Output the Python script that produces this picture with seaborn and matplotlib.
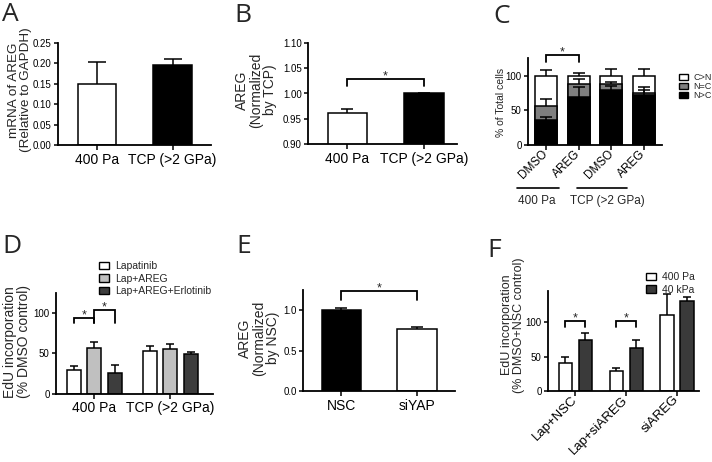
import numpy as np
import pandas as pd
import matplotlib
matplotlib.use("Agg")
import matplotlib.pyplot as plt
import seaborn as sns
from matplotlib.patches import Patch

# ---- values ----
# A: AREG mRNA
a_cond = ["400 Pa", "TCP (>2 GPa)"]
a_mean = [0.150, 0.197]
a_sem = [0.054, 0.014]

# B: AREG normalized by TCP
b_cond = ["400 Pa", "TCP (>2 GPa)"]
b_mean = [0.962, 1.000]
b_sem = [0.008, 0.0]

# C: YAP localisation (% of total cells), stacked
c_treat = ["DMSO", "AREG", "DMSO", "AREG"]
c_sub = ["400 Pa", "400 Pa", "TCP (>2 GPa)", "TCP (>2 GPa)"]
c_loc = ["C>N", "N=C", "N>C"]
c_n_gt_c = [36, 70, 80, 73]
c_n_eq_c = [20, 19, 8, 3]
c_n_gt_c_sem = [5, 14, 5, 6]
c_n_eq_c_sem = [11, 7, 3, 8]
c_c_gt_n_sem = [8, 4, 10, 10]

# D: EdU incorporation
d_cond = ["400 Pa", "TCP (>2 GPa)"]
d_treat = ["Lapatinib", "Lap+AREG", "Lap+AREG+Erlotinib"]
d_lap = [29, 53]
d_lap_areg = [57, 55]
d_lap_areg_erl = [26, 49]
d_lap_sem = [5.5, 6.5]
d_lap_areg_sem = [7.5, 6]
d_lap_areg_erl_sem = [9, 3]

# E: AREG normalized by NSC
e_cond = ["NSC", "siYAP"]
e_mean = [1.008, 0.762]
e_sem = [0.017, 0.032]

# F: EdU incorporation, siRNA
f_cond = ["Lap+NSC", "Lap+siAREG", "siAREG"]
f_sub = ["400 Pa", "40 kPa"]
f_400pa = [40, 28.5, 110]
f_40kpa = [73.5, 62, 130]
f_400pa_sem = [10, 4.5, 31]
f_40kpa_sem = [10.5, 11.5, 6]

sns.set_style("ticks")
plt.rcParams["font.family"] = ["Liberation Sans", "DejaVu Sans"]

W, H = 712, 462
fig = plt.figure(figsize=(W / 100, H / 100), dpi=100)
EDGE = dict(edgecolor="black", linewidth=1.1, saturation=1, errorbar=None)


def add_ax(l, t, r, b):
    return fig.add_axes([l / W, 1 - b / H, (r - l) / W, (b - t) / H])


def style(ax, xlim, ylim, yticks, fmt):
    ax.set_xlim(xlim)
    ax.set_ylim(ylim)
    ax.set_yticks(yticks)
    ax.set_yticklabels([fmt.format(v) for v in yticks])
    sns.despine(ax=ax)
    for s in ("left", "bottom"):
        ax.spines[s].set_linewidth(1.3)
        ax.spines[s].set_color("black")
    ax.tick_params(axis="y", length=3, width=1.1, labelsize=7, pad=1.5, colors="black")
    ax.tick_params(axis="x", length=3.5, width=1.1, labelsize=10, pad=2, colors="black")
    ax.set_xlabel("")
    ax.set_ylabel("")


def ylab(ax, text, x_px, y_px, size=10):
    pos = ax.get_position()
    l, r = pos.x0 * W, pos.x1 * W
    t, b = (1 - pos.y1) * H, (1 - pos.y0) * H
    ax.set_ylabel(text, fontsize=size, va="center", linespacing=1.0)
    ax.yaxis.set_label_coords((x_px - l) / (r - l), (b - y_px) / (b - t))


def centers(bars):
    return [p.get_x() + p.get_width() / 2 for p in bars]


def up_err(ax, xs, tops, errs, cap):
    _, caps, _ = ax.errorbar(xs, tops, yerr=[np.zeros(len(errs)), errs], fmt="none",
                             ecolor="black", elinewidth=1.1, capsize=cap, capthick=1.1,
                             clip_on=False)
    caps[0].set_visible(False)


def bracket(ax, x0, x1, y, y0, y1):
    ax.plot([x0, x0, x1, x1], [y0, y, y, y1], color="black", lw=1.3, clip_on=False,
            solid_joinstyle="miter")
    ax.annotate("*", xy=((x0 + x1) / 2, y), xytext=(0, -0.5), textcoords="offset points",
                ha="center", va="baseline", fontsize=9, annotation_clip=False)


def rot_labels(ax, labels, size):
    ax.set_xticks(range(len(labels)))
    ax.set_xticklabels(labels, rotation=45, ha="right", va="center",
                       rotation_mode="anchor", fontsize=size)
    ax.tick_params(axis="x", pad=1.5)


def letter(s, x_px, y_px):
    fig.text(x_px / W, 1 - y_px / H, s, fontsize=19, family="Open Sans",
             ha="left", va="baseline")


def small_legend(ax, handles, labels, x_px, y_px, size, spacing):
    ax.legend(handles, labels, loc="upper left", bbox_to_anchor=(x_px / W, 1 - y_px / H),
              bbox_transform=fig.transFigure, frameon=False, fontsize=size,
              handlelength=0.96, handleheight=0.7, handletextpad=0.6,
              labelspacing=spacing, borderaxespad=0, borderpad=0)


# ---------------- A ----------------
ax = add_ax(58, 43, 211, 145)
df_a = pd.DataFrame({"cond": a_cond, "val": a_mean})
sns.barplot(data=df_a, x="cond", y="val", hue="cond", palette=["white", "black"],
            legend=False, width=0.51, ax=ax, **EDGE)
up_err(ax, centers(ax.patches), a_mean, a_sem, 6.8)
style(ax, (-0.517, 1.51), (0, 0.25), np.arange(0, 0.26, 0.05), "{:.2f}")
ylab(ax, "mRNA of AREG\n(Relative to GAPDH)", 20, 90, size=9.7)
letter("A", 2, 21)

# ---------------- B ----------------
ax = add_ax(308, 43, 457, 144)
df_b = pd.DataFrame({"cond": b_cond, "val": b_mean})
sns.barplot(data=df_b, x="cond", y="val", hue="cond", palette=["white", "black"],
            legend=False, width=0.51, ax=ax, **EDGE)
up_err(ax, centers(ax.patches), b_mean, b_sem, 4.3)
style(ax, (-0.512, 1.43), (0.90, 1.10), np.arange(0.90, 1.101, 0.05), "{:.2f}")
bracket(ax, 0, 1, 1.0297, 1.0145, 1.0145)
ylab(ax, "AREG\n(Normalized\nby TCP)", 256, 90)
letter("B", 234, 22)

# ---------------- C ----------------
ax = add_ax(528, 58, 662, 145)
keys = [f"{s} {t}" for s, t in zip(c_sub, c_treat)]
grey_top = [a + b for a, b in zip(c_n_gt_c, c_n_eq_c)]
df_c = pd.DataFrame({"key": keys, "C>N": [100] * 4, "N=C": grey_top, "N>C": c_n_gt_c})
c_pal = {"C>N": "white", "N=C": "#7f7f7f", "N>C": "black"}
for loc in c_loc:
    sns.barplot(data=df_c, x="key", y=loc, color=c_pal[loc], width=0.67, ax=ax, **EDGE)
xs = centers(ax.patches[:4])
up_err(ax, xs, [100] * 4, c_c_gt_n_sem, 4.3)
up_err(ax, xs, grey_top, c_n_eq_c_sem, 4.3)
up_err(ax, xs, c_n_gt_c, c_n_gt_c_sem, 4.3)
style(ax, (-0.55, 3.55), (0, 126), [0, 50, 100], "{:d}")
rot_labels(ax, c_treat, 8.5)
bracket(ax, 0, 1, 131, 120, 120)
tr = ax.get_xaxis_transform()
for (x0, x1), lab, xm in zip([(-0.89, 0.40), (0.95, 2.48)], ["400 Pa", "TCP (>2 GPa)"],
                             [-0.28, 1.87]):
    ax.plot([x0, x1], [-0.49, -0.49], transform=tr, color="black", lw=1.2, clip_on=False)
    ax.text(xm, -0.645, lab, transform=tr, ha="center", va="center", fontsize=8.5)
ylab(ax, "% of Total cells", 501, 102, size=7.5)
small_legend(ax, [Patch(facecolor=c_pal[k], edgecolor="black", linewidth=1) for k in c_loc],
             c_loc, 679, 73, 6.5, 0.0)
letter("C", 493, 23)

# ---------------- D ----------------
ax = add_ax(56, 293, 213, 393.5)
d_vals = [d_lap, d_lap_areg, d_lap_areg_erl]
d_sems = [d_lap_sem, d_lap_areg_sem, d_lap_areg_erl_sem]
df_d = pd.DataFrame({"cond": d_cond * 3,
                     "treat": [t for t in d_treat for _ in d_cond],
                     "val": [v for vals in d_vals for v in vals]})
d_pal = dict(zip(d_treat, ["white", "#c0c0c0", "#3d3d3d"]))
sns.barplot(data=df_d, x="cond", y="val", hue="treat", hue_order=d_treat, palette=d_pal,
            width=0.8, gap=0.31, legend=False, ax=ax, **EDGE)
d_bars = list(ax.containers)
for bars, vals, sems in zip(d_bars, d_vals, d_sems):
    up_err(ax, centers(bars), vals, sems, 2.9)
style(ax, (-0.505, 1.56), (0, 125), [0, 50, 100], "{:d}")
xw, xg, xd = (centers(b)[0] for b in d_bars)
bracket(ax, xw, xg, 94, 87.5, 87.5)
bracket(ax, xg, xd, 104, 87.5, 87.5)
ylab(ax, "EdU incorporation\n(% DMSO control)", 17, 342)
small_legend(ax, [Patch(facecolor=d_pal[k], edgecolor="black", linewidth=1) for k in d_treat],
             d_treat, 99, 261, 7.5, 0.25)
letter("D", 2, 253)

# ---------------- E ----------------
ax = add_ax(303, 290, 455, 391)
df_e = pd.DataFrame({"cond": e_cond, "val": e_mean})
sns.barplot(data=df_e, x="cond", y="val", hue="cond", palette=["black", "white"],
            legend=False, width=0.52, ax=ax, **EDGE)
up_err(ax, centers(ax.patches), e_mean, e_sem, 4.3)
style(ax, (-0.504, 1.50), (0, 1.25), [0, 0.5, 1.0], "{:.1f}")
bracket(ax, 0, 1, 1.235, 1.123, 1.123)
ylab(ax, "AREG\n(Normalized\nby NSC)", 259, 338)
letter("E", 236, 253)

# ---------------- F ----------------
ax = add_ax(548, 291, 699, 391)
f_vals = [f_400pa, f_40kpa]
f_sems = [f_400pa_sem, f_40kpa_sem]
df_f = pd.DataFrame({"cond": f_cond * 2,
                     "sub": [s for s in f_sub for _ in f_cond],
                     "val": f_400pa + f_40kpa})
f_pal = dict(zip(f_sub, ["white", "#3a3a3a"]))
sns.barplot(data=df_f, x="cond", y="val", hue="sub", hue_order=f_sub, palette=f_pal,
            width=0.79, gap=0.33, legend=False, ax=ax, **EDGE)
f_bars = list(ax.containers)
for bars, vals, sems in zip(f_bars, f_vals, f_sems):
    up_err(ax, centers(bars), vals, sems, 2.9)
style(ax, (-0.54, 2.43), (0, 145), [0, 50, 100], "{:d}")
rot_labels(ax, f_cond, 9.5)
w_x, d_x = centers(f_bars[0]), centers(f_bars[1])
for i in range(2):
    bracket(ax, w_x[i], d_x[i], 101.5, 93, 93)
ylab(ax, "EdU incorporation\n(% DMSO+NSC control)", 513, 325, size=9)
small_legend(ax, [Patch(facecolor=f_pal[k], edgecolor="black", linewidth=1) for k in f_sub],
             f_sub, 646, 272, 7.5, 0.25)
letter("F", 487, 257)

fig.savefig("out.png", dpi=100)
